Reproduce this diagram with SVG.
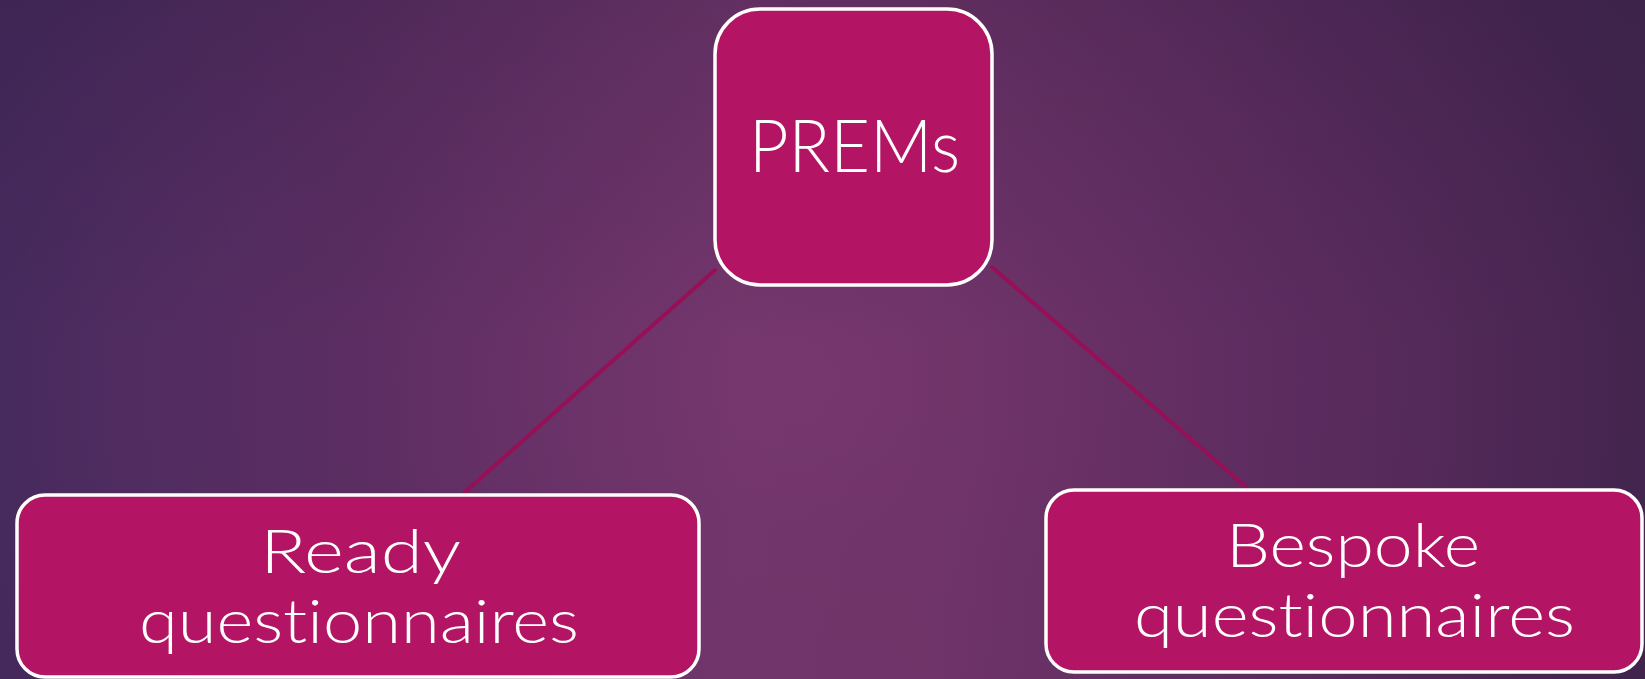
<svg xmlns="http://www.w3.org/2000/svg" width="1645" height="679" viewBox="0 0 1645 679">
  <defs>
    <!-- horizontal backdrop: cool violet edges, warm plum middle -->
    <linearGradient id="bgH" x1="0" y1="0" x2="1" y2="0">
      <stop offset="0" stop-color="#4c2d66"/>
      <stop offset="0.22" stop-color="#5b2d62"/>
      <stop offset="0.45" stop-color="#73366c"/>
      <stop offset="0.55" stop-color="#71346a"/>
      <stop offset="0.8" stop-color="#5a2b5e"/>
      <stop offset="1" stop-color="#492752"/>
    </linearGradient>
    <!-- soft glow in the centre, darker towards the corners -->
    <radialGradient id="bgGlow" cx="800" cy="380" r="900" gradientUnits="userSpaceOnUse" gradientTransform="translate(800 380) scale(1 0.75) translate(-800 -380)">
      <stop offset="0" stop-color="#7c3a72" stop-opacity="0.4"/>
      <stop offset="0.45" stop-color="#6a3266" stop-opacity="0.08"/>
      <stop offset="1" stop-color="#2e1d40" stop-opacity="0.3"/>
    </radialGradient>
    <linearGradient id="bgTop" x1="0" y1="0" x2="0" y2="1">
      <stop offset="0" stop-color="#2c1c40" stop-opacity="0.22"/>
      <stop offset="0.5" stop-color="#2c1c40" stop-opacity="0"/>
    </linearGradient>
    <style>
      .node rect { fill: #b31463; stroke: #ffffff; stroke-width: 3.5; }
      .node text { fill: #ffffff; font-family: "Lato", "Open Sans", "DejaVu Sans", sans-serif; font-weight: 300; font-variant-ligatures: none; font-feature-settings: "liga" 0, "clig" 0; }
      .edge { stroke: #970f57; stroke-width: 4; stroke-linecap: round; fill: none; }
    </style>
  </defs>

  <!-- background -->
  <rect x="0" y="0" width="1645" height="679" fill="url(#bgH)"/>
  <rect x="0" y="0" width="1645" height="679" fill="url(#bgGlow)"/>
  <rect x="0" y="0" width="1645" height="679" fill="url(#bgTop)"/>

  <!-- connectors -->
  <g id="connectors">
    <line class="edge" x1="715" y1="270" x2="465" y2="492"/>
    <line class="edge" x1="992" y1="267" x2="1245" y2="486"/>
  </g>

  <!-- top node -->
  <g id="node-prems" class="node">
    <rect x="715" y="9" width="277" height="276" rx="45" ry="45"/>
    <text x="749" y="172" font-size="72" textLength="211" lengthAdjust="spacingAndGlyphs">PREMs</text>
  </g>

  <!-- left node -->
  <g id="node-ready" class="node">
    <rect x="17" y="495" width="682" height="182" rx="28" ry="28"/>
    <text x="260" y="573" font-size="62" textLength="201" lengthAdjust="spacingAndGlyphs">Ready</text>
    <text x="139" y="643" font-size="62" textLength="440" lengthAdjust="spacingAndGlyphs">questionnaires</text>
  </g>

  <!-- right node -->
  <g id="node-bespoke" class="node">
    <rect x="1046" y="490" width="596" height="182" rx="28" ry="28"/>
    <text x="1226" y="567" font-size="62" textLength="254" lengthAdjust="spacingAndGlyphs">Bespoke</text>
    <text x="1134" y="637" font-size="62" textLength="441" lengthAdjust="spacingAndGlyphs">questionnaires</text>
  </g>
</svg>
